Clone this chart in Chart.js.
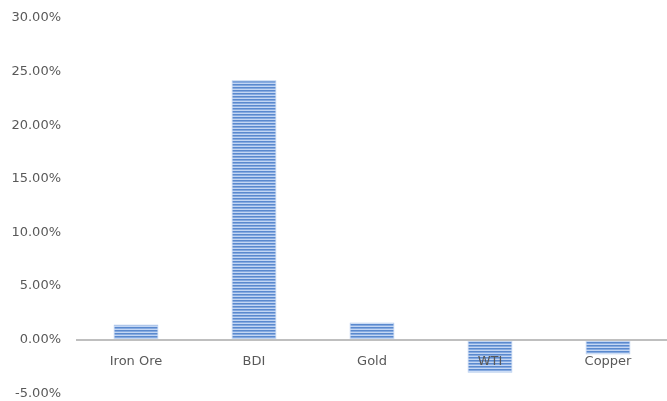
<!DOCTYPE html>
<html>
<head>
<meta charset="utf-8">
<script src="https://cdn.jsdelivr.net/npm/chart.js@4"></script>
<style>
  html, body { margin: 0; padding: 0; background: #fff; }
  #wrap { width: 667px; height: 401px; }
</style>
</head>
<body>
<div id="wrap"><canvas id="grafico"></canvas></div>
<script>
const categorias = ['Iron Ore', 'BDI', 'Gold', 'WTI', 'Copper'];
const variacion = [0.014, 0.242, 0.016, -0.031, -0.014];
const ejeMin = -0.05;
const ejeMax = 0.30;
const ejePaso = 0.05;

// relleno rayado horizontal de las barras
function rayado() {
    const c = document.createElement('canvas');
    c.width = 4;
    c.height = 3;
    const g = c.getContext('2d');
    g.fillStyle = '#5a89ce'; g.fillRect(0, 0, 4, 1);
    g.fillStyle = '#86aae0'; g.fillRect(0, 1, 4, 1);
    g.fillStyle = '#c3d6f3'; g.fillRect(0, 2, 4, 1);
    return g.createPattern(c, 'repeat');
}

const canvas = document.getElementById('grafico');
const ctx = canvas.getContext('2d');

new Chart(ctx, {
    type: 'bar',
    data: {
        labels: categorias,
        datasets: [{
            data: variacion,
            backgroundColor: rayado(),
            borderColor: '#b0c8ec',
            borderWidth: 1,
            barPercentage: 0.38,
            categoryPercentage: 1
        }]
    },
    options: {
        responsive: true,
        maintainAspectRatio: false,
        animation: false,
        layout: { padding: { top: 18, bottom: 6, left: 10, right: -5 } },
        plugins: { legend: { display: false }, tooltip: { enabled: false } },
        scales: {
            x: {
                position: { y: 0 },
                grid: { display: false, drawTicks: false },
                border: { display: true, color: '#bfbfbf', width: 2, z: 1 },
                ticks: {
                    z: 1,
                    color: '#595959',
                    padding: 14,
                    font: { family: 'DejaVu Sans', size: 13 }
                }
            },
            y: {
                min: ejeMin,
                max: ejeMax,
                // marcas invisibles: solo separan las etiquetas del área
                grid: { display: false, drawTicks: true, tickLength: 16 },
                border: { display: false },
                afterFit: s => { s.width = 67; },
                ticks: {
                    stepSize: ejePaso,
                    color: '#595959',
                    padding: 0,
                    font: { family: 'DejaVu Sans', size: 13 },
                    callback: v => (Math.round(v * 10000) / 100).toFixed(2) + '%'
                }
            }
        }
    }
});
</script>
</body>
</html>
